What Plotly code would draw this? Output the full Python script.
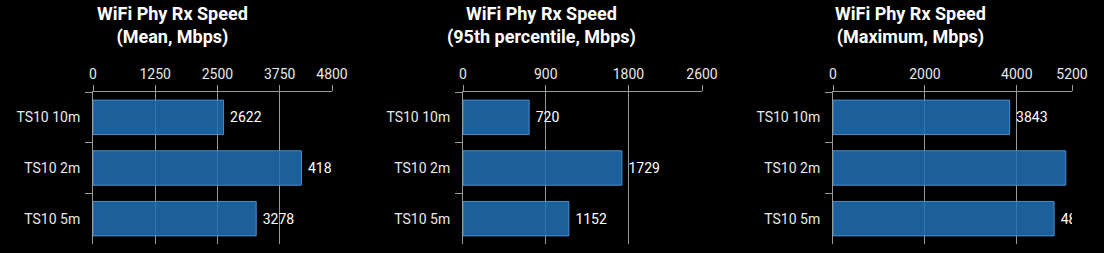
import plotly.graph_objects as go

categories = ["TS10 10m", "TS10 2m", "TS10 5m"]
mean_vals = [2622, 4187, 3278]
p95_vals = [720, 1729, 1152]
max_vals = [3843, 5066, 4812]

titles = [
    "WiFi Phy Rx Speed<br>(Mean, Mbps)",
    "WiFi Phy Rx Speed<br>(95th percentile, Mbps)",
    "WiFi Phy Rx Speed<br>(Maximum, Mbps)",
]
tick_sets = [[0, 1250, 2500, 3750, 4800], [0, 900, 1800, 2600], [0, 2000, 4000, 5200]]
series = [mean_vals, p95_vals, max_vals]

W, H = 1104, 253
plot_left = [93, 463, 833]
plot_w = 239
y_top, y_bot = 92, 244
title_cx = [172, 541.5, 911]

GRID = "#9a9a9a"
fig = go.Figure()
for i, vals in enumerate(series):
    n = "" if i == 0 else str(i + 1)
    fig.add_trace(go.Bar(
        x=vals, y=categories, orientation="h",
        xaxis="x" + n, yaxis="y" + n,
        marker=dict(color="rgba(33,112,180,0.86)",
                    line=dict(color="rgba(80,150,210,0.9)", width=1)),
        width=0.68,
        text=[str(v) for v in vals],
        texttemplate="\u00a0%{text}",
        textposition="outside", cliponaxis=True, constraintext="none",
        textfont=dict(family="Roboto", size=14, color="#ffffff"),
        hoverinfo="skip", showlegend=False,
    ))
    ticks = tick_sets[i]
    fig.layout["xaxis" + n] = dict(
        domain=[plot_left[i] / W, (plot_left[i] + plot_w) / W],
        anchor="y" + n, side="top", automargin=False,
        range=[0, ticks[-1]], tickmode="array", tickvals=ticks,
        ticktext=[str(t) for t in ticks],
        showgrid=True, gridcolor=GRID, gridwidth=1,
        showline=True, linecolor=GRID, linewidth=1,
        ticks="outside", ticklen=6, tickcolor=GRID,
        zeroline=False,
        tickfont=dict(family="Roboto", size=14, color="#e8e8e8"),
        fixedrange=True,
    )
    fig.layout["yaxis" + n] = dict(
        domain=[(H - y_bot) / H, (H - y_top) / H],
        anchor="x" + n, type="category", automargin=False,
        categoryorder="array", categoryarray=categories,
        range=[2.5, -0.5],
        tickson="boundaries", ticks="outside", ticklen=7, tickcolor=GRID,
        showline=True, linecolor=GRID, linewidth=1,
        showgrid=False, zeroline=False,
        tickfont=dict(family="Roboto", size=14, color="#e8e8e8"),
        ticklabelstandoff=9,
        fixedrange=True,
    )
    fig.add_annotation(
        text=titles[i], x=title_cx[i] / W, y=(H - 25.5) / H,
        xref="paper", yref="paper", xanchor="center", yanchor="middle",
        showarrow=False, align="center",
        font=dict(family="Roboto", size=18, color="#ffffff", weight=700),
    )

fig.update_layout(
    width=W, height=H,
    margin=dict(l=0, r=0, t=0, b=0, autoexpand=False),
    paper_bgcolor="#000000", plot_bgcolor="#000000",
    bargap=0.32,
)
fig.write_html("out.html")
